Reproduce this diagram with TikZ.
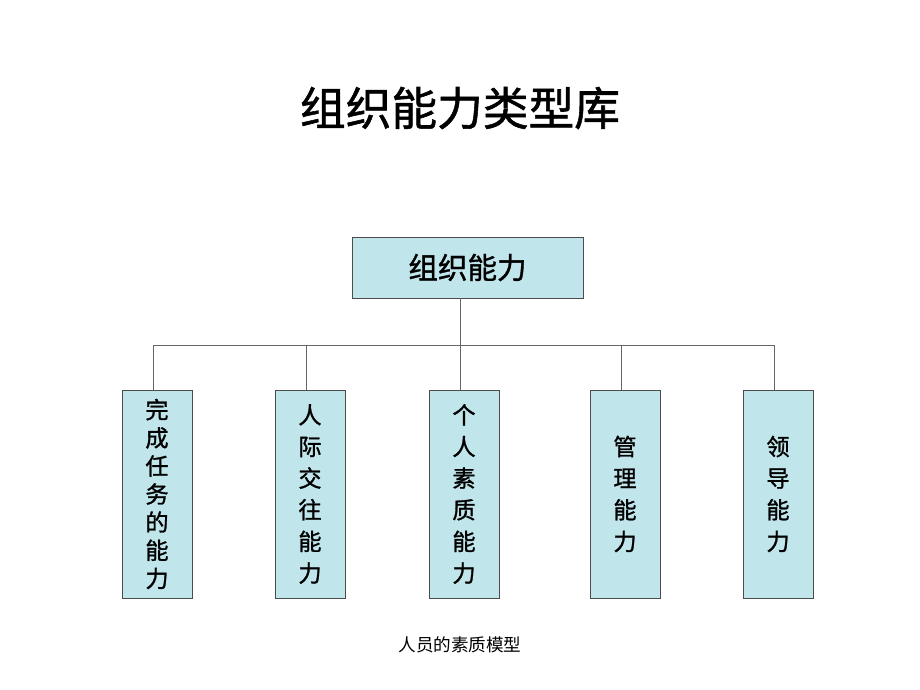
\documentclass[tikz,border=0pt]{standalone}
\usepackage{fontspec}
\setmainfont{Noto Sans CJK SC}
\newfontfamily\heavy{Noto Sans CJK SC}[FakeBold=1.2]
\usetikzlibrary{positioning}
\definecolor{boxblue}{RGB}{192,229,234}
\tikzstyle{box}=[draw=black!70,fill=boxblue,inner sep=0pt]
\tikzstyle{leaf}=[box,minimum width=1.75cm,minimum height=5.2cm,align=center,font=\heavy\fontsize{16.5}{22.5}\selectfont]
\tikzstyle{link}=[draw=black!60]

\begin{document}
\begin{tikzpicture}[x=0.025cm,y=-0.025cm]
\useasboundingbox (0,0) rectangle (920,690);

\node (t) at (460,108) {\heavy\fontsize{32.5}{32.5}\selectfont 组织能力类型库};
\node [box,minimum width=5.775cm,minimum height=1.525cm,font=\heavy\fontsize{21}{21}\selectfont] (r) at (467.5,267.5) {组织能力};

\node [leaf,font=\heavy\fontsize{16.5}{20}\selectfont] (a) at (157,494) {完\\成\\任\\务\\的\\能\\力};
\node [leaf] (b) at (310,494) {人\\际\\交\\往\\能\\力};
\node [leaf] (c) at (464,494) {个\\人\\素\\质\\能\\力};
\node [leaf] (d) at (625,494) {管\\理\\能\\力};
\node [leaf] (e) at (778,494) {领\\导\\能\\力};

\coordinate (h) at (460,345);
\draw [link] (r.south -| h) -- (h);
\draw [link] ([xshift=-4*0.025cm]a.north) -- ([xshift=-4*0.025cm]a.north |- h) -- ([xshift=-4*0.025cm]e.north |- h) -- ([xshift=-4*0.025cm]e.north);
\foreach \n in {b,c,d}
  \draw [link] ([xshift=-4*0.025cm]\n.north) -- ([xshift=-4*0.025cm]\n.north |- h);

\node (f) at (460,645) {\fontsize{12.5}{12.5}\selectfont 人员的素质模型};

\end{tikzpicture}
\end{document}
